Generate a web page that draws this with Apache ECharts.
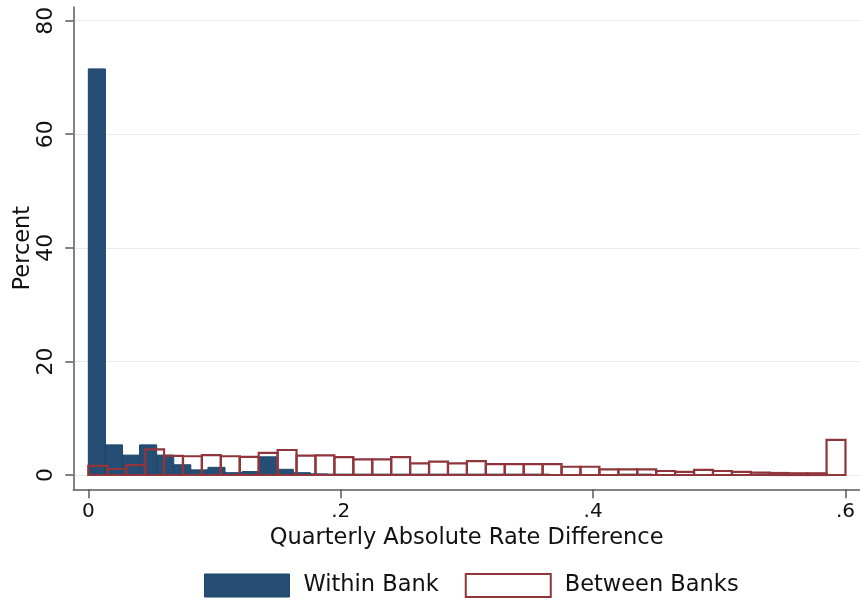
<!DOCTYPE html>
<html>
<head>
<meta charset="utf-8">
<script src="https://cdn.jsdelivr.net/npm/echarts@6/dist/echarts.min.js"></script>
<style>
  html, body { margin: 0; padding: 0; background: #fff; }
  #wrap { width: 860px; height: 600px; }
</style>
</head>
<body>
<div id="wrap"></div>
<script>
// histogram bins (percent per bin)
var withinBinWidth = 0.01354;
var withinPct = [71.5, 5.3, 3.5, 5.3, 3.5, 1.8, 0.9, 1.35, 0.4, 0.6,
                 3.2, 1.0, 0.4, 0.2, 0.15, 0.15, 0.15, 0.15, 0.15, 0.15,
                 0.15, 0.15, 0.15, 0.15, 0.15, 0.15, 0.15, 0, 0, 0,
                 0, 0.15, 0.15, 0, 0, 0, 0, 0, 0, 0.15];

var betweenBinWidth = 0.015;
var betweenPct = [1.6, 1.05, 1.75, 4.5, 3.35, 3.3, 3.5, 3.3, 3.2, 3.9,
                  4.4, 3.4, 3.45, 3.15, 2.75, 2.75, 3.15, 2.05, 2.35, 2.05,
                  2.45, 1.9, 1.9, 1.9, 1.9, 1.45, 1.45, 1.0, 1.0, 1.0,
                  0.7, 0.55, 0.9, 0.7, 0.55, 0.4, 0.35, 0.3, 0.3, 6.2];

var xTicks = [0, 0.2, 0.4, 0.6];
var yTicks = [0, 20, 40, 60, 80];

var seriesNames = ['Within Bank', 'Between Banks'];

function toBins(pct, w) {
  return pct.map(function (v, i) { return [i * w, (i + 1) * w, v]; });
}

var font = 'DejaVu Sans';
var axisColor = '#5a5a5a';

function binRender(fill, stroke, lw) {
  return function (params, api) {
    var p0 = api.coord([api.value(0), api.value(2)]);
    var p1 = api.coord([api.value(1), 0]);
    return {
      type: 'rect',
      shape: { x: p0[0], y: p0[1], width: p1[0] - p0[0], height: p1[1] - p0[1] },
      style: { fill: fill, stroke: stroke, lineWidth: lw }
    };
  };
}

var myChart = echarts.init(document.getElementById('wrap'));

var option = {
  animation: false,
  textStyle: { fontFamily: font },
  grid: { left: 73.3, right: 0, top: 7, bottom: 110.7, containLabel: false, outerBoundsMode: 'none' },
  xAxis: {
    type: 'value',
    min: -0.0119,
    max: 0.6115,
    name: 'Quarterly Absolute Rate Difference',
    nameLocation: 'middle',
    nameGap: 37,
    nameMoveOverlap: false,
    nameTextStyle: { fontSize: 22.5, color: '#111', fontFamily: font },
    axisLine: { onZero: false, lineStyle: { color: axisColor, width: 1.5 } },
    axisTick: { customValues: xTicks, length: 9, lineStyle: { color: axisColor, width: 1.5 } },
    axisLabel: {
      customValues: xTicks,
      fontSize: 20, color: '#111', margin: 12, fontFamily: font,
      formatter: function (v) { return v === 0 ? '0' : String(v).replace(/^0\./, '.'); }
    },
    splitLine: { show: false }
  },
  yAxis: {
    type: 'value',
    min: -2.52,
    max: 82.4,
    name: 'Percent',
    nameLocation: 'middle',
    nameGap: 39,
    nameMoveOverlap: false,
    nameTextStyle: { fontSize: 22.5, color: '#111', fontFamily: font },
    axisLine: { onZero: false, lineStyle: { color: axisColor, width: 1.5 } },
    axisTick: { customValues: yTicks, length: 8, lineStyle: { color: axisColor, width: 1.5 } },
    axisLabel: {
      customValues: yTicks,
      rotate: 90, fontSize: 22, color: '#111', margin: 16, fontFamily: font
    },
    splitLine: { show: true, lineStyle: { color: '#e3ecf0', width: 1.2 } }
  },
  legend: {
    left: 204,
    top: 573,
    padding: 0,
    itemWidth: 85,
    itemHeight: 23,
    itemGap: 26,
    icon: 'rect',
    textStyle: { fontSize: 22.5, color: '#111', fontFamily: font, padding: [0, 0, 0, 9] },
    data: [
      { name: seriesNames[0], itemStyle: { color: '#264e74', borderColor: '#1d466b', borderWidth: 1 } },
      { name: seriesNames[1], itemStyle: { color: '#fff', borderColor: '#90353b', borderWidth: 2 } }
    ]
  },
  series: [
    {
      name: seriesNames[0],
      type: 'custom',
      renderItem: binRender('#264e74', '#1d466b', 1),
      encode: { x: [0, 1], y: 2 },
      data: toBins(withinPct, withinBinWidth),
      z: 2
    },
    {
      name: seriesNames[1],
      type: 'custom',
      renderItem: binRender('none', '#90353b', 2.2),
      encode: { x: [0, 1], y: 2 },
      data: toBins(betweenPct, betweenBinWidth),
      z: 3
    }
  ]
};

myChart.setOption(option);
</script>
</body>
</html>
